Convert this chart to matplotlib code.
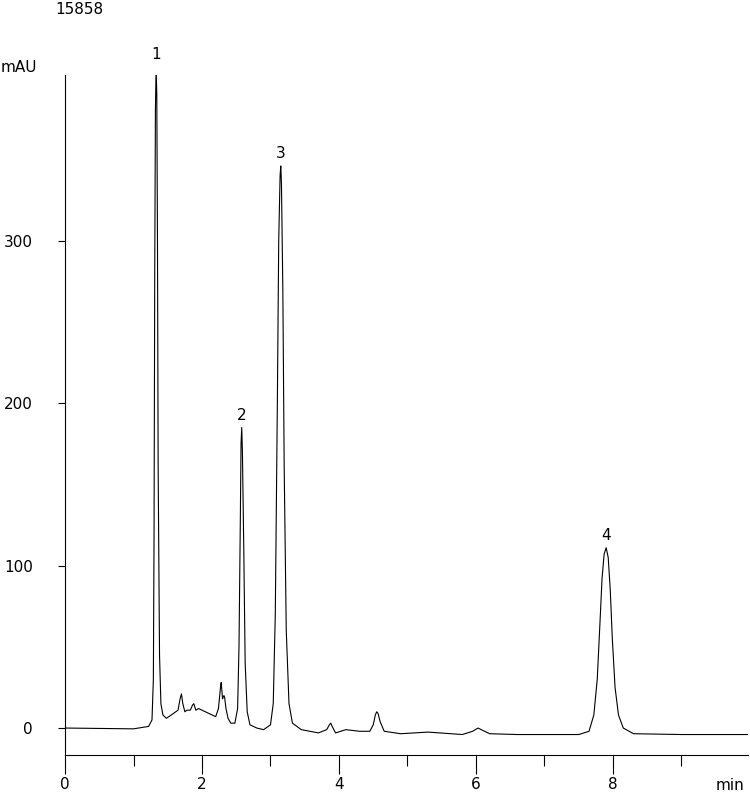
import matplotlib
matplotlib.use("Agg")
import matplotlib.pyplot as plt

# chromatogram trace vertices (min, mAU)
time_min = [0, 1.0, 1.22, 1.27, 1.29, 1.30, 1.31, 1.32, 1.33, 1.34, 1.35, 1.36, 1.38, 1.40,
            1.43, 1.48, 1.55, 1.65, 1.68, 1.70, 1.72, 1.75, 1.78, 1.83, 1.86, 1.88, 1.91,
            1.95, 2.0, 2.1, 2.2, 2.24, 2.27, 2.28, 2.30, 2.32, 2.33, 2.35, 2.38, 2.42,
            2.48, 2.52, 2.54, 2.56, 2.57, 2.58, 2.59, 2.61, 2.63, 2.66, 2.70, 2.8, 2.9,
            3.0, 3.04, 3.07, 3.10, 3.12, 3.14, 3.15, 3.16, 3.18, 3.20, 3.23, 3.27, 3.32,
            3.45, 3.7, 3.82, 3.86, 3.88, 3.90, 3.95, 4.1, 4.3, 4.45, 4.50, 4.53, 4.55,
            4.57, 4.60, 4.66, 4.9, 5.3, 5.8, 5.95, 6.03, 6.10, 6.2, 6.6, 7.5, 7.65, 7.72,
            7.77, 7.81, 7.84, 7.87, 7.90, 7.93, 7.96, 7.99, 8.03, 8.08, 8.15, 8.3, 9.0, 10.0]
signal_mau = [0, -0.5, 1, 5, 30, 120, 280, 380, 407, 390, 300, 160, 45, 15,
              8, 6, 8, 11, 18, 21, 15, 10, 11, 11, 14, 15, 11,
              12, 11, 9, 7, 12, 25, 28, 18, 20, 19, 12, 6, 3,
              3, 12, 50, 130, 175, 185, 170, 110, 40, 10, 2, 0, -1,
              2, 15, 70, 200, 300, 340, 346, 335, 270, 160, 60, 15, 3,
              -1, -3, -1, 2, 3, 1, -3, -1, -2, -2, 2, 8, 10,
              9, 4, -2, -3.5, -2.5, -4, -2, 0, -1.5, -3.5, -4, -4, -2, 8,
              30, 65, 92, 107, 111, 105, 85, 55, 25, 8, 0, -3.5, -4, -4]

peak_labels = ["1", "2", "3", "4"]
peak_times = [1.33, 2.58, 3.15, 7.9]
peak_heights = [407, 185, 346, 111]

plt.rcParams["font.family"] = "DejaVu Sans"
fig = plt.figure(figsize=(7.5, 7.94), dpi=100)
ax = fig.add_axes([65 / 750, 39 / 794, 683 / 750, 680 / 794])
ax.plot(time_min, signal_mau, color="black", lw=0.8)
ax.set_xlim(0, 683 / 68.5)
ax.set_ylim(-16.6, 402)
for s in ("top", "right"):
    ax.spines[s].set_visible(False)
for s in ("left", "bottom"):
    ax.spines[s].set_linewidth(0.8)
ax.set_xticks([0, 2, 4, 6, 8])
ax.set_xticks([1, 3, 5, 7, 9], minor=True)
ax.set_yticks([0, 100, 200, 300])
ax.tick_params(axis="x", length=14, width=0.8, labelsize=11, pad=2)
ax.tick_params(axis="x", which="minor", length=8, width=0.8)
ax.tick_params(axis="y", length=5, width=0.8, labelsize=11, pad=18)
for lab, t, h in zip(peak_labels, peak_times, peak_heights):
    ax.text(t, h + 3, lab, ha="center", va="bottom", fontsize=11, clip_on=False)
fig.text(1 / 750, 1 - 68 / 794, "mAU", fontsize=11, va="center")
fig.text(730 / 750, 1 - 786 / 794, "min", fontsize=11, va="center", ha="center")
fig.text(55 / 750, 1 - 10 / 794, "15858", fontsize=11, va="center")
fig.savefig("out.png", dpi=100, facecolor="white")
